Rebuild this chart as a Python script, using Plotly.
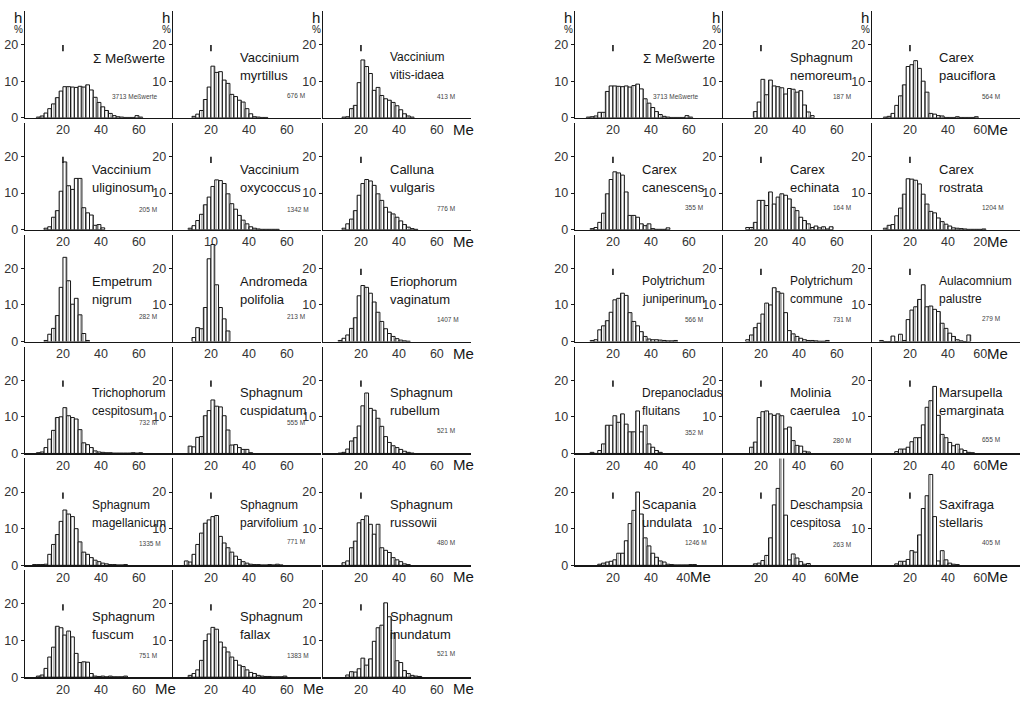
import plotly.graph_objects as go

W, H = 1027, 704
FONT = "Liberation Sans, Arial, sans-serif"
INK = "#161616"
GREY = "#333333"

BIN_W = 2          # class width (Me units)
MARK_X = 20        # small reference mark "I"
MARK_Y = [18.2, 19.9]

# ---------------- histogram data: h % per class, first class left edge ----------------
# left block
sum_start = 6
sum_vals = [0.2, 0.5, 1.3, 2.5, 3.8, 5.5, 7.3, 8.5, 8.5, 8.4, 8.3, 8.6, 8.4, 9.0, 7.6, 5.6,
            4.2, 3.0, 2.0, 1.2, 0.6, 0.3, 0.2, 0.1, 0.1, 0.1, 0.6, 0.2]
myrt_start = 10
myrt_vals = [0.4, 1.0, 2.0, 5.0, 8.4, 14.1, 12.4, 12.6, 10.3, 9.4, 6.4, 5.8, 4.8, 4.3, 2.5, 1.1,
             0.3, 0.2, 0.1, 0.1]
vitis_start = 10
vitis_vals = [0.2, 0.3, 2.5, 3.4, 9.6, 15.8, 14.0, 12.1, 7.5, 8.3, 6.1, 5.2, 4.8, 4.2, 3.3, 2.2,
              1.1, 0.5, 0.2]
ulig_start = 10
ulig_vals = [0.4, 0.8, 3.4, 5.2, 10.5, 18.5, 12.0, 11.0, 14.0, 14.0, 6.0, 4.6, 4.0, 1.2, 1.4, 0.5]
oxy_start = 8
oxy_vals = [0.4, 1.1, 2.5, 4.2, 6.8, 8.9, 11.8, 13.6, 13.4, 12.6, 9.8, 7.1, 5.6, 3.9, 2.6, 1.6,
            0.8, 0.4, 0.2, 0.1, 0.1, 0.1, 0.1, 0.1]
call_start = 10
call_vals = [0.4, 1.6, 2.9, 5.2, 9.4, 12.6, 13.7, 13.3, 12.1, 9.8, 8.0, 6.1, 4.8, 4.3, 3.4, 2.4,
             1.4, 0.7, 0.3, 0.1]
emp_start = 10
emp_vals = [0.3, 2.0, 3.6, 7.1, 14.8, 23.0, 16.6, 10.2, 11.8, 7.3, 2.2, 0.3]
andr_start = 10
andr_vals = [1.1, 3.8, 3.5, 9.3, 22.6, 26.5, 15.5, 9.3, 6.2, 2.9]
erio_start = 8
erio_vals = [0.3, 0.9, 1.8, 3.6, 6.5, 12.5, 15.3, 14.8, 13.2, 10.8, 8.0, 5.5, 3.5, 2.2, 1.4, 0.8,
             0.4, 0.2, 0.1]
tric_start = 6
tric_vals = [0.2, 0.4, 1.6, 3.9, 6.3, 9.8, 10.0, 12.5, 10.3, 9.8, 9.4, 6.5, 2.9, 2.4, 1.6, 0.7,
             0.4, 0.3, 0.2, 0.2, 0.1, 0.1, 0.1, 0.1, 0.1, 0.2, 0.1, 0.2]
cusp_start = 8
cusp_vals = [2.0, 1.8, 4.4, 4.6, 10.3, 11.7, 14.6, 12.9, 12.7, 10.3, 6.4, 2.3, 2.4, 1.6, 1.1, 1.1, 0.2]
rube_start = 8
rube_vals = [0.1, 0.3, 1.2, 3.4, 4.3, 7.5, 13.0, 16.5, 12.3, 11.8, 9.6, 7.4, 4.6, 3.0, 2.1, 1.6,
             1.1, 0.6, 0.3, 0.1]
mage_start = 4
mage_vals = [0.2, 0.2, 0.2, 0.3, 3.0, 5.7, 8.4, 12.0, 15.1, 14.0, 13.3, 10.0, 6.4, 3.6, 3.0, 2.1,
             1.4, 1.0, 0.6, 0.4, 0.2, 0.2, 0.1, 0.1, 0.2]
parv_start = 6
parv_vals = [1.2, 0.9, 3.0, 5.7, 8.8, 11.5, 12.4, 13.3, 13.6, 7.9, 6.1, 4.8, 3.6, 2.5, 1.6, 1.0,
             0.6, 0.3, 0.2, 0.2, 0.1, 0.1, 0.2, 0.1, 0.3, 0.1]
russ_start = 10
russ_vals = [0.7, 1.2, 4.8, 6.6, 11.6, 12.5, 13.5, 11.2, 8.5, 11.2, 4.8, 4.1, 3.5, 2.1, 1.5, 1.0,
             0.4, 0.2]
fusc_start = 6
fusc_vals = [0.3, 0.6, 2.4, 5.5, 8.2, 13.9, 13.5, 11.5, 12.6, 11.0, 6.5, 4.0, 4.2, 4.1, 1.0, 0.3,
             0.2, 0.3, 0.1, 0.3, 0.1, 0.1, 0.1, 0.3]
fall_start = 8
fall_vals = [0.5, 1.0, 2.0, 4.6, 10.0, 11.8, 13.6, 13.1, 9.6, 8.2, 6.9, 5.5, 4.6, 3.3, 2.9, 2.0,
             1.3, 1.0, 0.5, 0.3, 0.2, 0.2, 0.1, 0.1, 0.1, 0.3]
inun_start = 12
inun_vals = [0.6, 1.5, 1.4, 2.3, 5.2, 3.3, 5.0, 9.8, 13.5, 14.2, 20.3, 16.5, 12.0, 4.5, 4.0, 1.8,
             1.0, 0.5, 0.3, 0.2]
# right block
sum2_start = 6
sum2_vals = [0.2, 0.3, 0.5, 1.5, 1.5, 7.2, 8.7, 8.7, 8.6, 8.5, 8.7, 8.4, 8.8, 9.2, 7.9, 5.2,
             4.0, 2.8, 1.7, 0.9, 0.4, 0.2, 0.1, 0.1, 0.1, 0.1, 0.6, 0.2]
nemo_start = 16
nemo_vals = [1.7, 4.3, 10.5, 6.3, 10.3, 8.7, 8.5, 8.2, 6.5, 8.0, 7.8, 7.0, 7.4, 3.5, 1.6, 0.6]
pauc_start = 6
pauc_vals = [0.2, 0.4, 1.2, 3.4, 6.0, 9.0, 14.0, 14.5, 15.6, 13.5, 10.0, 7.0, 1.2, 1.0, 0.6, 0.5,
             0.1, 0.1, 0.1, 0.3, 0.1, 0.1, 0.1, 0.1, 0.3]
cane_start = 8
cane_vals = [0.3, 0.6, 2.0, 4.5, 9.8, 13.7, 15.8, 15.5, 14.9, 10.3, 3.9, 3.9, 3.4, 1.6, 1.1, 1.6,
             0.3, 0.1, 0.1, 0.1, 0.5]
echi_start = 12
echi_vals = [0.6, 0.6, 2.0, 8.0, 8.0, 6.6, 10.3, 7.0, 8.9, 9.8, 9.4, 8.4, 6.1, 5.2, 3.4, 2.5,
             1.6, 0.6, 1.0, 0.5, 0.8, 0.2, 0.8]
rost_start = 6
rost_vals = [0.4, 1.2, 1.4, 3.8, 5.9, 9.7, 13.9, 13.8, 13.5, 12.5, 9.7, 7.0, 5.0, 4.6, 3.2, 2.2,
             1.5, 1.0, 0.5, 0.4, 0.3, 0.2, 0.1, 0.1, 0.1, 0.1, 0.2]
juni_start = 8
juni_vals = [0.3, 0.5, 3.2, 4.3, 5.7, 8.0, 11.4, 11.8, 13.2, 12.6, 7.9, 5.5, 4.3, 2.7, 1.4, 0.7,
             0.5, 0.5, 0.4, 0.3, 0.2, 0.2, 0.3]
comm_start = 12
comm_vals = [0.5, 1.8, 3.8, 5.0, 7.5, 10.5, 10.0, 14.7, 13.6, 13.2, 7.9, 3.0, 2.1, 1.4, 0.9, 0.5,
             0.3, 0.3, 0.2, 0.1, 0.1, 0.3]
aula_start = 4
aula_vals = [0.3, 0.0, 0.0, 1.5, 0.0, 2.0, 0.3, 6.0, 8.6, 9.5, 11.5, 15.5, 9.5, 9.7, 8.8, 8.2,
             5.0, 3.6, 2.3, 1.4, 0.5, 0.2, 0.0, 1.8]
drep_start = 8
drep_vals = [0.3, 0.0, 0.8, 2.6, 7.7, 7.7, 10.3, 8.5, 10.8, 8.0, 5.9, 5.9, 11.6, 5.9, 7.7, 2.6,
             1.7, 0.8, 0.3]
moli_start = 14
moli_vals = [1.7, 3.1, 9.8, 11.4, 11.6, 10.8, 10.4, 10.8, 10.3, 6.7, 7.2, 3.5, 2.2, 2.0, 0.6, 0.4]
mars_start = 12
mars_vals = [0.5, 1.2, 1.2, 1.7, 3.2, 4.3, 4.3, 7.8, 12.6, 14.4, 18.3, 10.4, 5.2, 4.3, 3.0, 2.1,
             2.5, 1.2, 0.8, 0.3, 0.2]
scap_start = 12
scap_vals = [0.3, 0.6, 0.9, 1.1, 1.5, 3.3, 3.3, 6.7, 11.4, 15.0, 20.0, 14.0, 7.5, 5.3, 3.3, 2.2,
             1.2, 0.9, 0.3, 0.2, 0.1, 0.1, 0.1, 0.1, 0.2, 0.2]
desc_start = 16
desc_vals = [0.4, 0.6, 1.3, 2.7, 7.5, 16.5, 21.0, 30.5, 13.7, 1.5, 3.1, 2.0, 1.0, 0.3, 0.5]
saxi_start = 12
saxi_vals = [0.4, 1.1, 1.1, 1.6, 4.0, 3.6, 8.3, 15.5, 19.0, 24.8, 13.3, 1.2, 4.0, 1.5, 0.6, 0.3, 0.2]

# tick label sets (as printed, including the printer's slips)
TT_STD = ["20", "40", "60"]
TT_OXY = ["10", "40", "60"]
TT_ROS = ["20", "40", "20"]
TT_DRE = ["20", "40", "40"]

# block, row, col, start, values, name lines, sample label, sample label y, ticks, "Me", mark
panels = [
    ("L", 0, 0, sum_start, sum_vals, ["Σ Meßwerte"], "3713 Meßwerte", 5.9, TT_STD, False, True),
    ("L", 0, 1, myrt_start, myrt_vals, ["Vaccinium", "myrtillus"], "676 M", 6.0, TT_STD, False, True),
    ("L", 0, 2, vitis_start, vitis_vals, ["Vaccinium", "vitis-idaea"], "413 M", 5.9, TT_STD, True, True),
    ("L", 1, 0, ulig_start, ulig_vals, ["Vaccinium", "uliginosum"], "205 M", 5.4, TT_STD, False, True),
    ("L", 1, 1, oxy_start, oxy_vals, ["Vaccinium", "oxycoccus"], "1342 M", 5.4, TT_OXY, False, True),
    ("L", 1, 2, call_start, call_vals, ["Calluna", "vulgaris"], "776 M", 5.9, TT_STD, True, True),
    ("L", 2, 0, emp_start, emp_vals, ["Empetrum", "nigrum"], "282 M", 6.8, TT_STD, False, False),
    ("L", 2, 1, andr_start, andr_vals, ["Andromeda", "polifolia"], "213 M", 6.8, TT_STD, False, False),
    ("L", 2, 2, erio_start, erio_vals, ["Eriophorum", "vaginatum"], "1407 M", 6.0, TT_STD, True, True),
    ("L", 3, 0, tric_start, tric_vals, ["Trichophorum", "cespitosum"], "732 M", 8.4, TT_STD, False, True),
    ("L", 3, 1, cusp_start, cusp_vals, ["Sphagnum", "cuspidatum"], "555 M", 8.4, TT_STD, False, True),
    ("L", 3, 2, rube_start, rube_vals, ["Sphagnum", "rubellum"], "521 M", 6.2, TT_STD, True, True),
    ("L", 4, 0, mage_start, mage_vals, ["Sphagnum", "magellanicum"], "1335 M", 6.0, TT_STD, False, True),
    ("L", 4, 1, parv_start, parv_vals, ["Sphagnum", "parvifolium"], "771 M", 6.4, TT_STD, False, True),
    ("L", 4, 2, russ_start, russ_vals, ["Sphagnum", "russowii"], "480 M", 6.2, TT_STD, True, True),
    ("L", 5, 0, fusc_start, fusc_vals, ["Sphagnum", "fuscum"], "751 M", 6.0, TT_STD, True, True),
    ("L", 5, 1, fall_start, fall_vals, ["Sphagnum", "fallax"], "1383 M", 6.0, TT_STD, True, True),
    ("L", 5, 2, inun_start, inun_vals, ["Sphagnum", "inundatum"], "521 M", 6.5, TT_STD, True, True),
    ("R", 0, 0, sum2_start, sum2_vals, ["Σ Meßwerte"], "3713 Meßwerte", 5.7, TT_STD, False, True),
    ("R", 0, 1, nemo_start, nemo_vals, ["Sphagnum", "nemoreum"], "187 M", 5.7, TT_STD, False, True),
    ("R", 0, 2, pauc_start, pauc_vals, ["Carex", "pauciflora"], "564 M", 5.7, TT_STD, True, True),
    ("R", 1, 0, cane_start, cane_vals, ["Carex", "canescens"], "355 M", 6.0, TT_STD, False, True),
    ("R", 1, 1, echi_start, echi_vals, ["Carex", "echinata"], "164 M", 6.0, TT_STD, False, True),
    ("R", 1, 2, rost_start, rost_vals, ["Carex", "rostrata"], "1204 M", 6.0, TT_ROS, True, True),
    ("R", 2, 0, juni_start, juni_vals, ["Polytrichum", "juniperinum"], "566 M", 6.0, TT_STD, False, True),
    ("R", 2, 1, comm_start, comm_vals, ["Polytrichum", "commune"], "731 M", 6.0, TT_STD, False, True),
    ("R", 2, 2, aula_start, aula_vals, ["Aulacomnium", "palustre"], "279 M", 6.2, TT_STD, True, True),
    ("R", 3, 0, drep_start, drep_vals, ["Drepanocladus", "fluitans"], "352 M", 5.7, TT_DRE, False, True),
    ("R", 3, 1, moli_start, moli_vals, ["Molinia", "caerulea"], "280 M", 3.5, TT_STD, False, True),
    ("R", 3, 2, mars_start, mars_vals, ["Marsupella", "emarginata"], "655 M", 3.8, TT_STD, True, True),
    ("R", 4, 0, scap_start, scap_vals, ["Scapania", "undulata"], "1246 M", 6.2, TT_DRE, True, True),
    ("R", 4, 1, desc_start, desc_vals, ["Deschampsia", "cespitosa"], "263 M", 5.7, TT_STD, True, True),
    ("R", 4, 2, saxi_start, saxi_vals, ["Saxifraga", "stellaris"], "405 M", 6.2, TT_STD, True, True),
]

# ---------------- geometry (pixels of the 1027x704 page) ----------------
COLS = {"L": [25, 173, 323], "R": [575, 723, 872]}
COL_W = 148
BASES = [119, 232, 345, 458, 571, 684]
PANEL_H = 108
PX_PER_UNIT_Y = 3.7
X_RANGE = [0, 78]
Y_RANGE = [0, PANEL_H / PX_PER_UNIT_Y]
NAME_SIZE = 13

fig = go.Figure()
layout = {}
ann = []

for i, (blk, row, col, start, vals, lines, count, count_y, ticks, me, mark) in enumerate(panels):
    k = i + 1
    xs = "x" if k == 1 else f"x{k}"
    ys = "y" if k == 1 else f"y{k}"
    xa = "xaxis" if k == 1 else f"xaxis{k}"
    ya = "yaxis" if k == 1 else f"yaxis{k}"
    x0 = COLS[blk][col]
    base = BASES[row]
    third = 57 if (blk == "R" and me) else 60
    layout[xa] = dict(domain=[x0 / W, (x0 + COL_W) / W], range=X_RANGE, anchor=ys,
                      showline=True, linecolor=INK, linewidth=1.4, ticks="",
                      tickvals=[20, 40, third], ticktext=ticks,
                      tickfont=dict(family=FONT, size=12.5, color=GREY),
                      showgrid=False, zeroline=False, fixedrange=True)
    yt = [0, 10, 20] if col == 0 else [10, 20]
    layout[ya] = dict(domain=[1 - base / H, 1 - (base - PANEL_H) / H], range=Y_RANGE, anchor=xs,
                      showline=True, linecolor=INK, linewidth=1.4, ticks="outside", ticklen=3,
                      tickcolor=INK, tickwidth=1, tickvals=yt, ticktext=[str(v) for v in yt],
                      tickfont=dict(family=FONT, size=12.5, color=GREY),
                      showgrid=False, zeroline=False, fixedrange=True)

    centers = [start + BIN_W * j + BIN_W / 2 for j in range(len(vals))]
    fig.add_trace(go.Bar(
        x=centers, y=vals, width=BIN_W, xaxis=xs, yaxis=ys, cliponaxis=False,
        marker=dict(color="white", line=dict(color=INK, width=1),
                    pattern=dict(shape="|", fgcolor="#606060", bgcolor="white",
                                 size=3, solidity=0.3)),
        showlegend=False, hoverinfo="skip"))
    if mark:
        fig.add_trace(go.Scatter(x=[MARK_X, MARK_X], y=MARK_Y, mode="lines", xaxis=xs, yaxis=ys,
                                 line=dict(color=INK, width=1.6), showlegend=False,
                                 hoverinfo="skip"))

    # species name
    if len(lines) == 1:
        ann.append(dict(x=35, y=16.2, xref=xs, yref=ys, text=lines[0], showarrow=False,
                        xanchor="left", yanchor="middle",
                        font=dict(family=FONT, size=NAME_SIZE + 0.5, color=INK)))
    else:
        sz = NAME_SIZE - 1 if max(len(t) for t in lines) >= 11 else NAME_SIZE
        for txt, yy in zip(lines, [16.5, 11.6]):
            ann.append(dict(x=34.5, y=yy, xref=xs, yref=ys, text=txt, showarrow=False,
                            xanchor="left", yanchor="middle",
                            font=dict(family=FONT, size=sz, color=INK)))
    # sample size
    cx = (45 if blk == "L" else 40) if count.endswith("werte") else (59 if blk == "L" else 57)
    ann.append(dict(x=cx, y=count_y, xref=xs, yref=ys, text=count, showarrow=False,
                    xanchor="left", yanchor="middle",
                    font=dict(family=FONT, size=6.5, color="#444444")))
    # axis unit "Me"
    if me:
        ann.append(dict(x=67.5 if blk == "L" else 59.5, y=0, xref=xs, yref=ys, text="Me",
                        showarrow=False, xanchor="left", yanchor="top", yshift=-1,
                        font=dict(family=FONT, size=15, color=INK)))
    # "h %" on top row
    if row == 0:
        ann.append(dict(x=(x0 - 7) / W, y=1 - 18 / H, xref="paper", yref="paper", text="h",
                        showarrow=False, xanchor="center", yanchor="middle",
                        font=dict(family=FONT, size=15, color=INK)))
        ann.append(dict(x=(x0 - 7) / W, y=1 - 30 / H, xref="paper", yref="paper", text="%",
                        showarrow=False, xanchor="center", yanchor="middle",
                        font=dict(family=FONT, size=10, color=INK)))

fig.update_layout(**layout)
fig.update_layout(width=W, height=H, margin=dict(l=0, r=0, t=0, b=0),
                  paper_bgcolor="white", plot_bgcolor="white", annotations=ann,
                  showlegend=False, barmode="overlay")
fig.write_html("out.html", config={"displayModeBar": False, "staticPlot": True},
               post_script="document.body.style.margin='0';document.body.style.overflow='hidden';")
